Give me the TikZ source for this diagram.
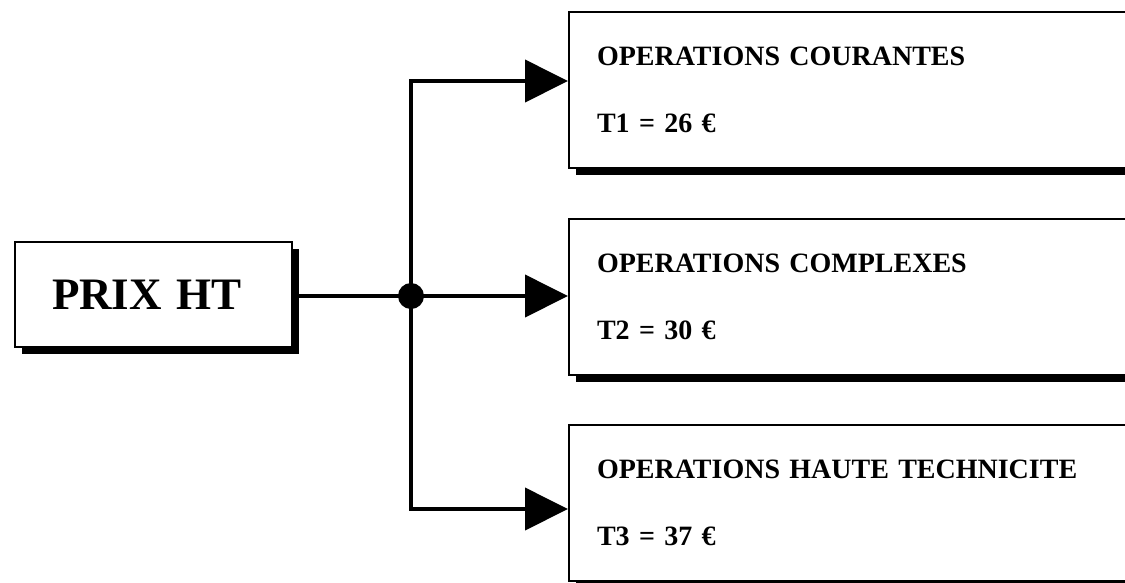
\documentclass[tikz,border=0pt]{standalone}
\usepackage{fontspec}
\setmainfont{Liberation Serif}
\usetikzlibrary{arrows.meta,shadows}
\tikzset{
	boxshadow/.style={drop shadow={shadow xshift=7pt,shadow yshift=-7pt,fill=black,opacity=1}},
	prixbox/.style={draw,line width=2pt,fill=white,boxshadow,minimum width=277pt,minimum height=105pt,
		text width=203pt,inner xsep=37pt,align=left,font=\fontsize{45}{54}\selectfont\bfseries},
	opbox/.style={draw,line width=2pt,fill=white,boxshadow,anchor=north west,minimum width=570pt,
		minimum height=156pt,text width=520pt,inner xsep=28pt,align=left,
		font=\fontsize{28}{67}\selectfont\bfseries},
	hubdot/.style={circle,fill=black,inner sep=0pt,minimum size=26pt},
	link/.style={line width=4pt},
	feed/.style={link,-{Triangle[length=43pt,width=42pt]}}
}
\begin{document}
\begin{tikzpicture}[x=1pt,y=-1pt]
			\clip (0,0) rectangle (1125,582);
			\fill[white] (0,0) rectangle (1125,582);
			\node[prixbox] (prix) at (153.5,294.5) {PRIX HT};
			\node[opbox] (courantes) at (568,11) {OPERATIONS COURANTES\\T1 = 26 €};
			\node[opbox] (complexes) at (568,218) {OPERATIONS COMPLEXES\\T2 = 30 €};
			\node[opbox] (haute) at (568,424) {OPERATIONS HAUTE TECHNICITE\\T3 = 37 €};
			\node[hubdot] (hub) at (411,296) {};
			\draw[link] (prix.east |- hub) -- (hub.center);
			\draw[feed] (hub.center) |- ([yshift=9pt]courantes.west);
			\draw[feed] (hub.center) -- (complexes.west |- hub);
			\draw[feed] (hub.center) |- ([yshift=-6pt]haute.west);
\end{tikzpicture}
\end{document}
